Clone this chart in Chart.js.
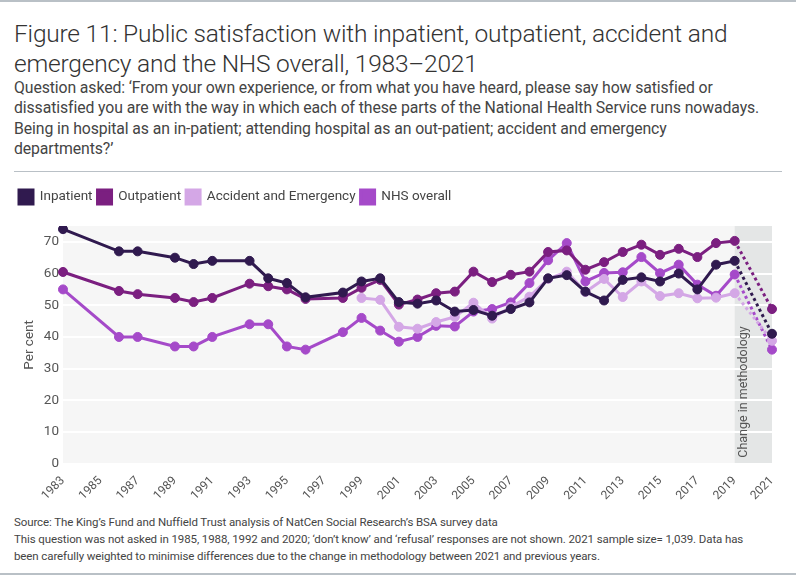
<!DOCTYPE html>
<html>
<head>
<meta charset="utf-8">
<script src="https://cdn.jsdelivr.net/npm/chart.js@4.4.1/dist/chart.umd.min.js"></script>
<style>
  html, body { margin: 0; padding: 0; background: #fff; }
  body { width: 796px; height: 575px; position: relative; overflow: hidden; font-family: Roboto, "Noto Sans", sans-serif; color: #333; }
  #topline { position: absolute; left: 0; top: 0; width: 796px; height: 2px; background: #b9c0c6; }
  #title { position: absolute; left: 14px; top: 19px; font-size: 24.5px; line-height: 30px; color: #333; font-weight: 300; letter-spacing: -0.2px; }
  #subtitle { position: absolute; left: 14px; top: 78px; font-size: 15.8px; line-height: 20.3px; color: #444; letter-spacing: -0.1px; }
  #sep { position: absolute; left: 14px; top: 171px; width: 768px; height: 1px; background: #b9c0c6; }
  #wrap { position: absolute; left: 0; top: 180px; width: 796px; height: 325px; }
  #footer { position: absolute; left: 14px; top: 514px; font-size: 11.5px; line-height: 17px; color: #444; letter-spacing: -0.1px; }
  #bottomline { position: absolute; left: 0; top: 573px; width: 796px; height: 2px; background: #b9c0c6; }
</style>
</head>
<body>
<div id="topline"></div>
<div id="title">Figure 11: Public satisfaction with inpatient, outpatient, accident and<br>emergency and the NHS overall, 1983–2021</div>
<div id="subtitle">Question asked: ‘From your own experience, or from what you have heard, please say how satisfied or<br>dissatisfied you are with the way in which each of these parts of the National Health Service runs nowadays.<br>Being in hospital as an in-patient; attending hospital as an out-patient; accident and emergency<br>departments?’</div>
<div id="sep"></div>
<div id="wrap"><canvas id="myChart"></canvas></div>
<div id="footer">Source: The King’s Fund and Nuffield Trust analysis of NatCen Social Research’s BSA survey data<br>This question was not asked in 1985, 1988, 1992 and 2020; ‘don’t know’ and ‘refusal’ responses are not shown. 2021 sample size= 1,039. Data has<br>been carefully weighted to minimise differences due to the change in methodology between 2021 and previous years.</div>
<div id="bottomline"></div>

<script>
// years on the axis, 1983 to 2021 (null = not asked / not shown)
const years = [];
for (let y = 1983; y <= 2021; y++) years.push(y);

const inpatient = [
    74, null, null, 67, 67, null, 65, 63, 64, null,      // 1983-1992
    64, 58.5, 57, 52.5, null, 54, 57.5, 58.5, 51, 50.5,  // 1993-2002
    51.5, 48, 48.5, 46.7, 48.8, 50.9, 58.5, 59.5, 54.3, 51.5, // 2003-2012
    58, 58.8, 57.5, 60, 55, 62.8, 64, null, 41           // 2013-2021
];
const outpatient = [
    60.5, null, null, 54.5, 53.5, null, 52.3, 51, 52.3, null,
    56.8, 56, 55, 52, null, 52.3, 55.5, 58, 50.2, 51.8,
    53.8, 54.3, 60.6, 57.3, 59.6, 60.6, 66.8, 67.3, 61.2, 63.6,
    66.8, 69.1, 65.9, 67.8, 65.2, 69.6, 70.3, null, 48.8
];
const accident = [
    null, null, null, null, null, null, null, null, null, null,
    null, null, null, null, null, null, 52.3, 51.7, 43.2, 42.6,
    44.7, 46.3, 50.8, 45.8, 49.5, 52.7, 58.3, 60.6, 54.2, 58.3,
    52.6, 57.5, 52.9, 53.8, 52.2, 52.4, 53.8, null, 38.8
];
const nhsOverall = [
    55, null, null, 40, 40, null, 37, 37, 40, null,
    44, 44, 37, 36, null, 41.5, 46, 42, 38.5, 40,
    43.5, 43.3, 48, 48.8, 50.9, 57, 64.2, 69.6, 57.5, 60.2,
    60.4, 65.2, 60.1, 62.8, 56.5, 53, 59.7, null, 36
];

const colors = {
    inpatient: '#301a4f',
    outpatient: '#7b1f80',
    accident: '#d4a7e6',
    nhs: '#a54ac9'
};

const lastIdx = years.indexOf(2021);

function makeSet(label, data, color) {
    return {
        label: label,
        data: data,
        borderColor: color,
        backgroundColor: color,
        pointBackgroundColor: color,
        pointBorderColor: color,
        pointRadius: 4.5,
        pointBorderWidth: 1,
        borderWidth: 3,
        spanGaps: true,
        tension: 0,
        segment: {
            borderDash: ctx => ctx.p1DataIndex === lastIdx ? [3, 3] : undefined
        }
    };
}

// grey plot area and the shaded 2019-2021 band
const plotBackground = {
    id: 'plotBackground',
    beforeDraw(chart) {
        const { ctx, chartArea, scales } = chart;
        ctx.save();
        ctx.fillStyle = '#f6f6f6';
        ctx.fillRect(chartArea.left, chartArea.top, chartArea.right - chartArea.left, chartArea.bottom - chartArea.top);
        const x0 = scales.x.getPixelForValue(years.indexOf(2019));
        const x1 = scales.x.getPixelForValue(lastIdx);
        ctx.fillStyle = '#e4e6e6';
        ctx.fillRect(x0, chartArea.top, x1 - x0, chartArea.bottom - chartArea.top);
        ctx.restore();
    },
    afterDatasetsDraw(chart) {
        const { ctx, chartArea, scales } = chart;
        const x0 = scales.x.getPixelForValue(years.indexOf(2019));
        ctx.save();
        ctx.translate(x0 + 9, chartArea.bottom - 6);
        ctx.rotate(-Math.PI / 2);
        ctx.font = '12.5px Roboto, "Noto Sans", sans-serif';
        ctx.fillStyle = '#555';
        ctx.textAlign = 'left';
        ctx.textBaseline = 'middle';
        ctx.fillText('Change in methodology', 0, 0);
        ctx.restore();
    }
};

// extra space under the legend
const legendMargin = {
    id: 'legendMargin',
    beforeInit(chart) {
        const fit = chart.legend.fit;
        chart.legend.fit = function () {
            fit.bind(chart.legend)();
            this.height += 12;
        };
    }
};

const ctx = document.getElementById('myChart').getContext('2d');

const chart = new Chart(ctx, {
    type: 'line',
    data: {
        labels: years.map(String),
        datasets: [
            makeSet('Inpatient', inpatient, colors.inpatient),
            makeSet('Outpatient', outpatient, colors.outpatient),
            makeSet('Accident and Emergency', accident, colors.accident),
            makeSet('NHS overall', nhsOverall, colors.nhs)
        ]
    },
    options: {
        responsive: true,
        maintainAspectRatio: false,
        animation: false,
        layout: {
            padding: { left: 14, right: 24, top: 5, bottom: 0 }
        },
        plugins: {
            legend: {
                align: 'start',
                labels: {
                    boxWidth: 14,
                    boxHeight: 14,
                    padding: 5,
                    color: '#444',
                    font: { size: 13.5, family: 'Roboto, "Noto Sans", sans-serif' }
                }
            },
            tooltip: { enabled: false }
        },
        scales: {
            x: {
                offset: false,
                grid: { display: false },
                border: { display: false },
                ticks: {
                    autoSkip: false,
                    minRotation: 45,
                    maxRotation: 45,
                    color: '#555',
                    padding: 2,
                    font: { size: 12, family: 'Roboto, "Noto Sans", sans-serif' },
                    callback: function (val, i) {
                        const y = years[i];
                        return (y % 2 === 1) ? String(y) : null;
                    }
                }
            },
            y: {
                min: 0,
                max: 75,
                afterBuildTicks: scale => {
                    scale.ticks = scale.ticks.filter(t => t.value % 10 === 0);
                },
                afterFit: scale => { scale.width = 49; },
                grid: { color: '#ffffff', lineWidth: 2, drawTicks: false },
                border: { display: false },
                ticks: {
                    stepSize: 10,
                    padding: 4,
                    color: '#555',
                    font: { size: 13.5, family: 'Roboto, "Noto Sans", sans-serif' }
                },
                title: {
                    display: true,
                    text: 'Per cent',
                    color: '#555',
                    padding: { top: 8, bottom: 0 },
                    font: { size: 13.5, family: 'Roboto, "Noto Sans", sans-serif' }
                }
            }
        }
    },
    plugins: [plotBackground, legendMargin]
});
</script>
</body>
</html>
